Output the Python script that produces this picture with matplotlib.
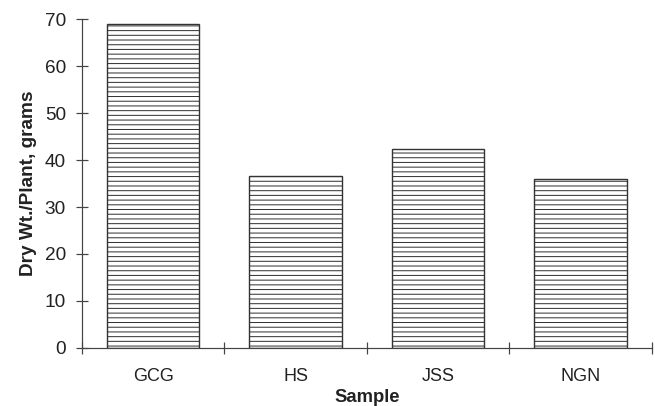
import matplotlib.pyplot as plt

DPI = 113  # chosen so the '----' hatch spacing matches the scan (~4.7 px)
PX = 72.0 / DPI  # one pixel in points

plt.rcParams['font.family'] = 'Liberation Sans'
plt.rcParams['hatch.linewidth'] = 1.0 * PX
plt.rcParams['hatch.color'] = '#4a4a4a'

samples = ["GCG", "HS", "JSS", "NGN"]
dry_wt = [69.0, 36.6, 42.3, 36.0]
y_ticks = [0, 10, 20, 30, 40, 50, 60, 70]

fig = plt.figure(figsize=(655 / DPI, 406 / DPI), dpi=DPI)
ax = fig.add_axes([0.125, 0.143, 0.870, 0.810])

x = range(len(samples))
ax.bar(x, dry_wt, width=0.65, color='white', edgecolor='#333333',
       linewidth=1.4 * PX, hatch='----')

ax.set_xlim(-0.5, len(samples) - 0.5)
ax.set_ylim(0, 70)
ax.set_yticks(y_ticks)
ax.set_yticklabels([str(v) for v in y_ticks])

# category labels in the middle, ticks on the boundaries
ax.set_xticks(list(x))
ax.set_xticklabels(samples)
ax.tick_params(axis='x', which='major', length=0, pad=20 * PX,
               labelsize=18 * PX, labelcolor='#222222')
ax.set_xticks([i - 0.5 for i in range(len(samples) + 1)], minor=True)
ax.tick_params(axis='x', which='minor', direction='inout', length=12 * PX,
               width=1.2 * PX, color='#444444')
ax.tick_params(axis='y', direction='inout', length=12 * PX, width=1.2 * PX,
               color='#444444', labelsize=19 * PX, labelcolor='#222222',
               pad=10 * PX)

for side in ['top', 'right']:
    ax.spines[side].set_visible(False)
for side in ['left', 'bottom']:
    ax.spines[side].set_color('#444444')
    ax.spines[side].set_linewidth(1.2 * PX)

ax.set_xlabel("Sample", fontweight='bold', fontsize=18.5 * PX, color='#222222',
              labelpad=4 * PX)
ax.set_ylabel("Dry Wt./Plant, grams", fontweight='bold', fontsize=19 * PX,
              color='#222222', labelpad=8 * PX)

plt.savefig("out.png", dpi=DPI)
